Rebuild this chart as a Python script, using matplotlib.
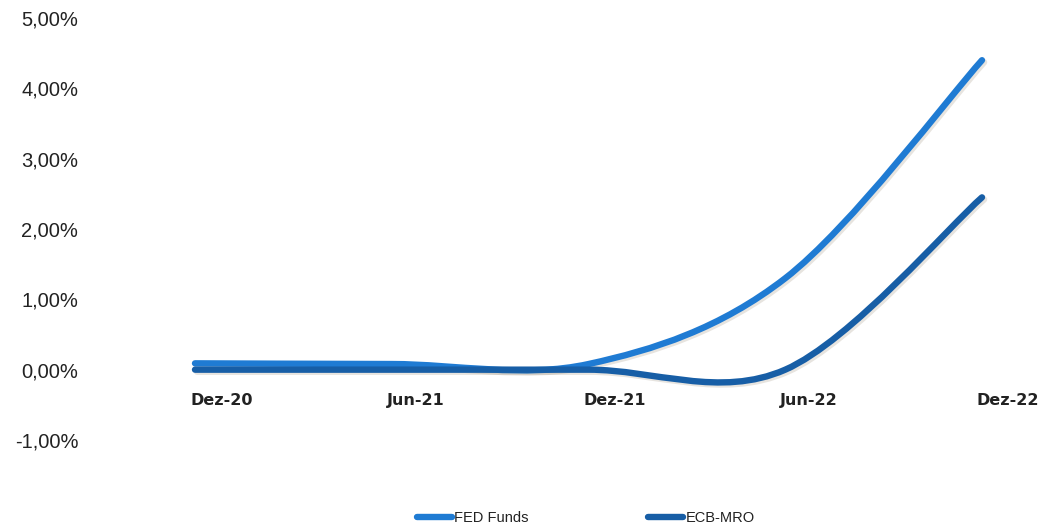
import matplotlib
matplotlib.use("Agg")
import matplotlib.pyplot as plt
import matplotlib.patheffects as pe
from matplotlib.path import Path
from matplotlib.patches import PathPatch
from matplotlib.lines import Line2D
from matplotlib.ticker import FuncFormatter

# ==============================
# DATA
# ==============================
CATEGORIES = ["Dez-20", "Jun-21", "Dez-21", "Jun-22", "Dez-22"]
FED_FUNDS = [0.09, 0.08, 0.08, 1.30, 4.40]   # %
ECB_MRO = [0.00, 0.00, 0.00, 0.00, 2.45]     # %
SERIES_NAMES = ["FED Funds", "ECB-MRO"]

Y_TICKS = [-1, 0, 1, 2, 3, 4, 5]

FED_COLOR = "#1f7bd3"
ECB_COLOR = "#175ea6"


def smooth_path(xs, ys):
    # Excel-style smoothed line: cubic Bezier segments (Catmull-Rom control points)
    pts = list(zip(xs, ys))
    n = len(pts)
    verts = [pts[0]]
    codes = [Path.MOVETO]
    for i in range(n - 1):
        p0 = pts[i - 1] if i > 0 else pts[i]
        p1 = pts[i]
        p2 = pts[i + 1]
        p3 = pts[i + 2] if i + 2 < n else pts[i + 1]
        c1 = (p1[0] + (p2[0] - p0[0]) / 6, p1[1] + (p2[1] - p0[1]) / 6)
        c2 = (p2[0] - (p3[0] - p1[0]) / 6, p2[1] - (p3[1] - p1[1]) / 6)
        verts += [c1, c2, p2]
        codes += [Path.CURVE4, Path.CURVE4, Path.CURVE4]
    return Path(verts, codes)


def main():
    fig = plt.figure(figsize=(10.46, 5.29), dpi=100)
    ax = fig.add_axes([195 / 1046, 1 - 440 / 529, 787 / 1046, 422 / 529])

    xs = list(range(len(CATEGORIES)))
    shadow = [pe.SimpleLineShadow(offset=(1.5, -1.5), alpha=0.18, shadow_color="#7a6a50"),
              pe.Normal()]

    for ys, color in [(FED_FUNDS, FED_COLOR), (ECB_MRO, ECB_COLOR)]:
        patch = PathPatch(smooth_path(xs, ys), fill=False, edgecolor=color,
                          linewidth=4.6, capstyle="round", joinstyle="round",
                          transform=ax.transData, clip_on=False)
        patch.set_path_effects(shadow)
        ax.add_patch(patch)

    ax.set_xlim(0, len(CATEGORIES) - 1)
    ax.set_ylim(-1, 5)

    # eixo Y
    ax.set_yticks(Y_TICKS)
    ax.yaxis.set_major_formatter(FuncFormatter(lambda v, p: f"{v:.2f}%".replace(".", ",")))
    ax.tick_params(axis="y", length=0, pad=84, labelsize=14.5, labelcolor="#222222")
    for lab in ax.get_yticklabels():
        lab.set_fontfamily("Liberation Sans")

    # eixo X cruza no zero
    ax.spines["bottom"].set_position(("data", 0))
    for s in ax.spines.values():
        s.set_visible(False)
    ax.set_xticks(xs)
    ax.set_xticklabels(CATEGORIES, fontweight="bold", fontsize=11.5, color="#222222")
    ax.tick_params(axis="x", length=0, pad=17)
    for lab in ax.get_xticklabels():
        lab.set_horizontalalignment("left")
        lab.set_x(lab.get_position()[0])
    offset = matplotlib.transforms.ScaledTranslation(-5 / 100, 0, fig.dpi_scale_trans)
    for lab in ax.get_xticklabels():
        lab.set_transform(lab.get_transform() + offset)

    handles = [Line2D([], [], color=FED_COLOR, lw=4.6, solid_capstyle="round"),
               Line2D([], [], color=ECB_COLOR, lw=4.6, solid_capstyle="round")]
    leg = fig.legend(handles, SERIES_NAMES, loc="center", ncol=2, frameon=False,
                     bbox_to_anchor=(586 / 1046, 1 - 518 / 529),
                     handlelength=2.4, handletextpad=0.15, columnspacing=8.2,
                     prop={"family": "Liberation Sans", "size": 10.5})
    for t in leg.get_texts():
        t.set_color("#222222")

    fig.savefig("out.png", dpi=100)
    plt.close(fig)


if __name__ == "__main__":
    main()
